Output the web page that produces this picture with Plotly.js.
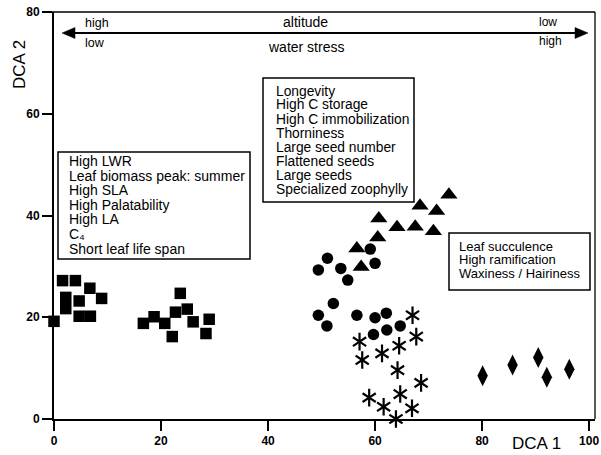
<!DOCTYPE html>
<html><head><meta charset="utf-8">
<script src="https://cdn.plot.ly/plotly-3.0.1.min.js"></script>
<style>html,body{margin:0;padding:0;background:#fff}</style>
</head><body><div id="chart" style="width:601px;height:455px"></div>
<script>
// ---- data ----
const sq1X = [1.6, 4.0, 6.7, 8.9, 4.7, 2.2, 2.2, 4.7, 6.8, 0.0];
const sq1Y = [27.2, 27.2, 25.7, 23.7, 23.2, 23.9, 21.7, 20.2, 20.2, 19.2];
const sq2X = [23.6, 24.9, 22.7, 18.7, 16.7, 20.7, 26.0, 22.1, 29.0, 28.4];
const sq2Y = [24.7, 21.6, 21.0, 20.1, 18.8, 18.8, 19.1, 16.2, 19.6, 16.8];
const triX = [73.8, 68.4, 71.5, 60.7, 64.1, 67.5, 70.9, 60.5, 56.6, 57.4];
const triY = [44.1, 41.9, 40.9, 39.4, 37.7, 37.8, 36.9, 35.7, 33.5, 29.9];
const circX = [59.1, 60.0, 51.1, 49.4, 53.6, 54.9, 52.2, 49.4, 51.0, 56.6, 60.0, 62.1, 64.7, 59.7, 62.2];
const circY = [33.4, 30.6, 31.6, 29.3, 29.6, 27.3, 22.7, 20.4, 18.3, 20.4, 19.9, 20.8, 18.3, 16.6, 17.5];
const starX = [67.0, 67.7, 57.1, 64.5, 61.3, 57.6, 64.2, 68.6, 64.7, 58.9, 61.6, 66.9, 63.9];
const starY = [20.4, 16.2, 15.2, 14.4, 12.9, 11.6, 9.6, 7.1, 4.9, 4.2, 2.4, 2.1, 0.0];
const diaX = [80.1, 85.7, 90.5, 92.1, 96.3];
const diaY = [8.5, 10.6, 12.1, 8.2, 9.8];

const xTicks = [0, 20, 40, 60, 80, 100];
const yTicks = [0, 20, 40, 60, 80];

const boxA = ['High LWR', 'Leaf biomass peak: summer', 'High SLA', 'High Palatability', 'High LA', 'C\u2084', 'Short leaf life span'];
const boxB = ['Longevity', 'High C storage', 'High C immobilization', 'Thorniness', 'Large seed number', 'Flattened seeds', 'Large seeds', 'Specialized zoophylly'];
const boxC = ['Leaf succulence', 'High ramification', 'Waxiness / Hairiness'];

// ---- layout helpers ----
const W = 601, H = 455, L = 54, R = 6, T = 12, B = 36;
const pw = W - L - R, ph = H - T - B;
const px = x => (x - L) / pw;
const py = y => (H - B - y) / ph;
const FONT = 'Liberation Sans, Arial, sans-serif';

function mk(x, y, sym, size, lw) {
  return {
    x: x, y: y, type: 'scatter', mode: 'markers', cliponaxis: false, showlegend: false,
    hoverinfo: 'skip',
    marker: {symbol: sym, size: size, color: '#000', line: {width: lw || 0, color: '#000'}}
  };
}

const data = [
  mk(sq1X, sq1Y, 'square', 11.5),
  mk(sq2X, sq2Y, 'square', 11.5),
  mk(triX, triY, 'triangle-up', 15),
  mk(circX, circY, 'circle', 11.5),
  mk(starX, starY, 'y-up-open', 11, 2.2),
  mk(starX, starY, 'y-down-open', 11, 2.2),
  mk(diaX, diaY, 'diamond-tall', 15)
];

const annotations = [];
const shapes = [];

function textBox(lines, left, top, right, bottom, textX, firstY, step, size) {
  shapes.push({type: 'rect', xref: 'paper', yref: 'paper', x0: px(left), x1: px(right), y0: py(bottom), y1: py(top),
    line: {color: '#000', width: 1.5}, fillcolor: 'rgba(0,0,0,0)'});
  lines.forEach((t, i) => {
    annotations.push({text: t, xref: 'paper', yref: 'paper', x: px(textX), y: py(firstY + i * step),
      xanchor: 'left', yanchor: 'middle', showarrow: false, font: {family: FONT, size: size, color: '#000'}});
  });
}
textBox(boxA, 58, 152, 250, 259, 67, 161, 14.6, 14);
textBox(boxB, 263, 78, 414, 202, 274, 91, 14, 13.8);
textBox(boxC, 449, 233, 590, 290, 457, 246, 13.5, 13);

function label(t, x, y, size, anchor) {
  annotations.push({text: t, xref: 'paper', yref: 'paper', x: px(x), y: py(y), xanchor: anchor || 'center',
    yanchor: 'middle', showarrow: false, font: {family: FONT, size: size, color: '#000'}});
}
label('altitude', 305, 22, 14);
label('water stress', 306, 47, 14);
label('high', 83, 23, 12.5, 'left');
label('low', 83, 43, 12.5, 'left');
label('low', 537, 22, 12, 'left');
label('high', 537, 41, 12, 'left');
label('DCA 1', 536, 444, 17);
annotations.push({text: 'DCA 2', xref: 'paper', yref: 'paper', x: px(19), y: py(65), textangle: -90,
  xanchor: 'center', yanchor: 'middle', showarrow: false, font: {family: FONT, size: 17, color: '#000'}});

// double-headed arrow (line + two heads)
shapes.push({type: 'line', xref: 'paper', yref: 'paper', x0: px(70), x1: px(580), y0: py(33), y1: py(33),
  line: {color: '#000', width: 2.2}});
shapes.push({type: 'path', xref: 'paper', yref: 'paper',
  path: `M ${px(62)} ${py(33)} L ${px(75)} ${py(27.5)} L ${px(75)} ${py(38.5)} Z`,
  fillcolor: '#000', line: {color: '#000', width: 0.5}});
shapes.push({type: 'path', xref: 'paper', yref: 'paper',
  path: `M ${px(588)} ${py(33)} L ${px(575)} ${py(27.5)} L ${px(575)} ${py(38.5)} Z`,
  fillcolor: '#000', line: {color: '#000', width: 0.5}});

// frame: top and right thin lines
shapes.push({type: 'line', xref: 'paper', yref: 'paper', x0: px(42), x1: px(595), y0: 1, y1: 1, line: {color: '#000', width: 1.3}});
shapes.push({type: 'line', xref: 'paper', yref: 'paper', x0: px(595), x1: px(595), y0: 0, y1: 1, line: {color: '#000', width: 1.3}});

const axisFont = {family: FONT, size: 12, color: '#000', weight: 'bold'};
const layout = {
  width: W, height: H,
  margin: {l: L, r: R, t: T, b: B, pad: 0},
  paper_bgcolor: '#fff', plot_bgcolor: '#fff',
  showlegend: false,
  xaxis: {range: [0, 101.1], tickvals: xTicks, ticktext: xTicks.map(String), ticks: 'outside', ticklen: 10, tickwidth: 2,
    tickcolor: '#000', showline: true, linewidth: 2, linecolor: '#000', showgrid: false, zeroline: false,
    tickfont: axisFont, fixedrange: true},
  yaxis: {range: [0, 80], tickvals: yTicks, ticktext: yTicks.map(String), ticks: 'outside', ticklen: 10, tickwidth: 2,
    tickcolor: '#000', showline: true, linewidth: 2, linecolor: '#000', showgrid: false, zeroline: false,
    tickfont: axisFont, fixedrange: true},
  annotations: annotations,
  shapes: shapes
};
Plotly.newPlot('chart', data, layout, {displayModeBar: false, staticPlot: true});
</script>
</body></html>
